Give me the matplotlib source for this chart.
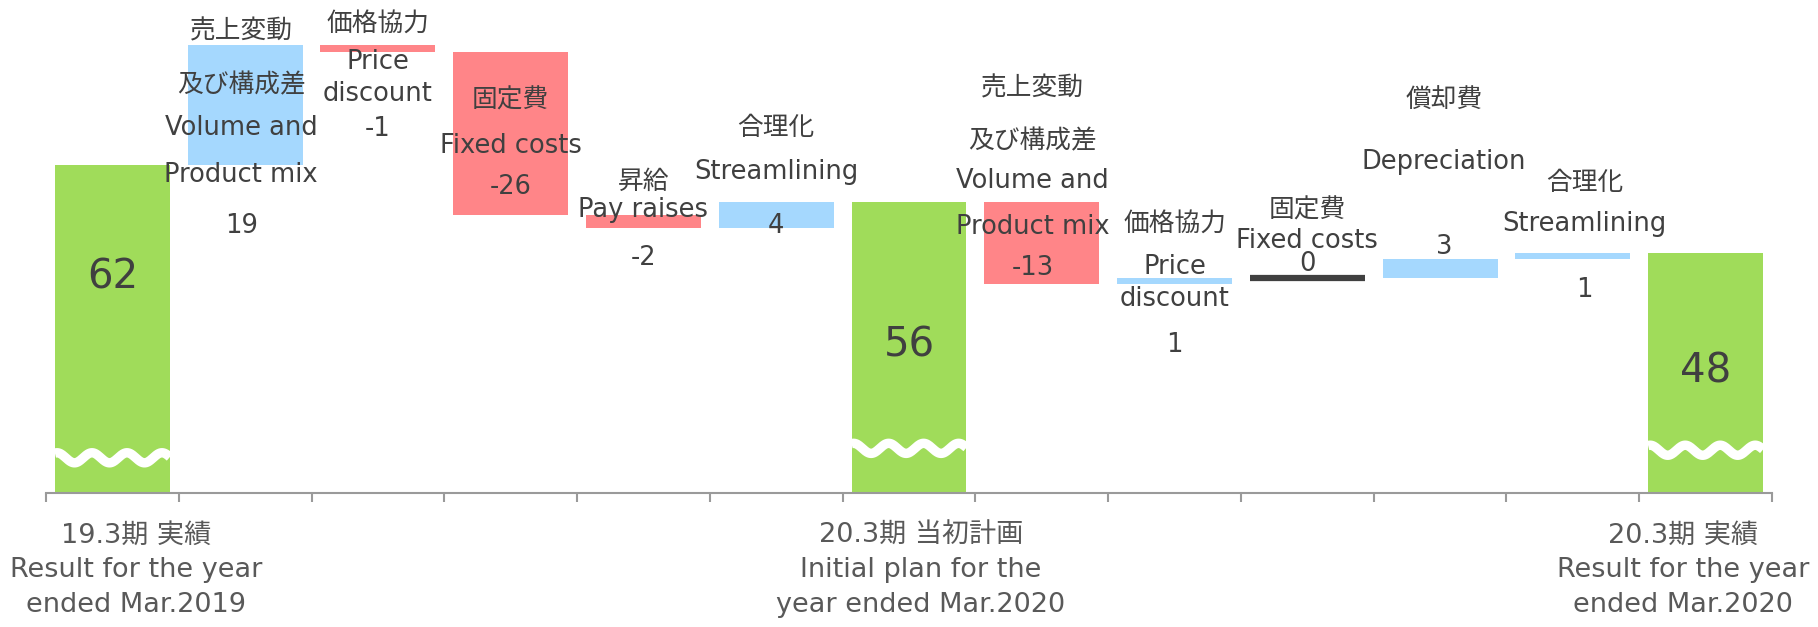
import numpy as np
import matplotlib
matplotlib.use("Agg")
import matplotlib.pyplot as plt

plt.rcParams['font.family'] = ['DejaVu Sans', 'Noto Sans CJK JP']

# 営業利益の増減（億円）
totals_pos = [0, 6, 12]
totals = [62, 56, 48]
deltas_1 = [19, -1, -26, -2, 4]      # 19.3期実績 -> 20.3期当初計画
deltas_2 = [-13, 1, 0, 3, 1]         # 20.3期当初計画 -> 20.3期実績

jp_labels_1 = ["売上変動\n及び構成差", "価格協力", "固定費", "昇給", "合理化"]
en_labels_1 = ["Volume and\nProduct mix", "Price\ndiscount", "Fixed costs", "Pay raises", "Streamlining"]
jp_labels_2 = ["売上変動\n及び構成差", "価格協力", "固定費", "償却費", "合理化"]
en_labels_2 = ["Volume and\nProduct mix", "Price\ndiscount", "Fixed costs", "Depreciation", "Streamlining"]

total_labels = [
    ["19.3期 実績", "Result for the year", "ended Mar.2019"],
    ["20.3期 当初計画", "Initial plan for the", "year ended Mar.2020"],
    ["20.3期 実績", "Result for the year", "ended Mar.2020"],
]

# レイアウト（ラベル行の高さ、データ単位）
line_y = {
    1: [83.2, 74.7, 67.9, 60.4, 52.3],
    2: [84.5, 78.4, 73.3, 67.7],
    3: [72.2, 65.0, 58.5],
    4: [59.3, 54.8, 47.1],
    5: [67.9, 60.9, 52.3],
    7: [74.2, 65.7, 59.4, 52.1, 45.6],
    8: [52.6, 45.8, 40.6, 33.3],
    9: [54.8, 49.9, 46.2],
    10: [72.2, 62.4, 48.9],
    11: [59.1, 52.6, 42.1],
}
label_dx = {1: -0.03, 7: -0.07, 10: 0.03, 11: 0.09}
total_text_y = [44.0, 33.3, 29.2]
wave_y = [15.4, 16.9, 16.6]
bottom_shift = [0.18, 0.09, -0.17]
bottom_y = [3.0, -2.5, -8.0]

GREEN = "#A0DC5A"
BLUE = "#A5D8FE"
RED = "#FF8588"
DARK = "#404040"
TXT = "#404040"

fig = plt.figure(figsize=(18.18, 6.27), dpi=100)
ax = fig.add_axes([46 / 1818, 1 - 493 / 627, (1772 - 46) / 1818, 493 / 627])
ax.set_xlim(-0.5, 12.5)
ax.set_ylim(9.8, 88.2)
W = 0.866

# 合計の棒
ax.bar(totals_pos, totals, width=W, color=GREEN, zorder=2)

# 増減の棒
steps = [(1, totals[0], deltas_1, jp_labels_1, en_labels_1),
         (7, totals[1], deltas_2, jp_labels_2, en_labels_2)]
for start, base, deltas, jps, ens in steps:
    level = base
    for i, d in enumerate(deltas):
        x = start + i
        if d == 0:
            ax.bar(x, 0, bottom=level, width=W, color=DARK, edgecolor=DARK, linewidth=4.5, zorder=2)
        else:
            ax.bar(x, d, bottom=level, width=W, color=BLUE if d > 0 else RED, zorder=2)
        level += d
        lines = jps[i].split("\n") + ens[i].split("\n") + [str(d)]
        for txt, y in zip(lines, line_y[x]):
            ax.text(x + label_dx.get(x, 0), y, txt, ha="center", va="center",
                    fontsize=18.5, color=TXT, zorder=3)

# 合計値・波線・下部ラベル
for k, (x, v) in enumerate(zip(totals_pos, totals)):
    ax.text(x, total_text_y[k], str(v), ha="center", va="center", fontsize=29, color=TXT, zorder=3)
    xs = np.linspace(x - W / 2, x + W / 2, 200)
    period = 35 / 132.8
    ys = wave_y[k] + 0.8 * np.cos(2 * np.pi * ((xs - xs[0]) / period - 0.06))
    ax.plot(xs, ys, color="white", linewidth=6.8, solid_capstyle="butt", zorder=2.5)
    for txt, y in zip(total_labels[k], bottom_y):
        ax.text(x + bottom_shift[k], y, txt, ha="center", va="center", fontsize=19.5,
                color="#595959", clip_on=False)

for s in ["top", "left", "right"]:
    ax.spines[s].set_visible(False)
ax.spines["bottom"].set_color("#9A9A9A")
ax.spines["bottom"].set_linewidth(1.5)
ax.spines["bottom"].set_zorder(4)
ax.set_xticks(np.arange(-0.5, 13, 1))
ax.set_xticklabels([])
ax.tick_params(axis="x", length=6.5, width=1.5, color="#9A9A9A")
ax.set_yticks([])

fig.savefig("out.png", dpi=100)
